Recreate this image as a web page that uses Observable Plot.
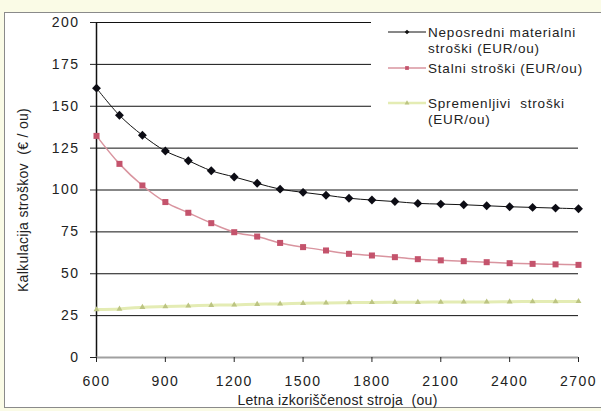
<!DOCTYPE html>
<html>
<head>
<meta charset="utf-8">
<script src="https://cdn.jsdelivr.net/npm/d3@7"></script>
<script src="https://cdn.jsdelivr.net/npm/@observablehq/plot@0.6"></script>
<style>
  body { margin: 0; background: #fafbe6; font-family: "Liberation Sans", Arial, sans-serif; }
  #wrap { position: relative; width: 601px; height: 411px; overflow: hidden; background: #fafbe6; }
  #frame { position: absolute; left: 4px; top: 12px; width: 610px; height: 394px; background: #fff; border: 1px solid #8a8a8a; }
  #chart { position: absolute; left: 0; top: 0; }
  #legend { position: absolute; left: 371px; top: 20px; width: 230px; height: 112px; background: #fff; }
  #legend svg { display: block; }
  #legend text, .axislabel text { white-space: pre; }
  .axislabel text { letter-spacing: 0.3px; }
</style>
</head>
<body>
<div id="wrap">
  <div id="frame"></div>
  <div id="chart"></div>
  <div id="legend"></div>
</div>
<script>
const usage = [600, 700, 800, 900, 1000, 1100, 1200, 1300, 1400, 1500, 1600, 1700, 1800, 1900, 2000, 2100, 2200, 2300, 2400, 2500, 2600, 2700];
const direct = [160.8, 144.6, 132.7, 123.3, 117.5, 111.5, 107.8, 104.0, 100.5, 98.6, 96.9, 95.1, 94.0, 93.1, 92.0, 91.6, 91.2, 90.6, 90.0, 89.6, 89.2, 88.8];
const fixed = [132.3, 115.6, 102.7, 92.8, 86.4, 80.2, 74.8, 72.2, 68.4, 65.9, 63.9, 61.9, 60.9, 59.9, 58.7, 58.0, 57.5, 56.9, 56.3, 55.9, 55.6, 55.3];
const variable = [28.6, 29.0, 30.0, 30.4, 30.8, 31.2, 31.4, 31.8, 32.0, 32.4, 32.6, 32.8, 32.9, 33.0, 33.0, 33.1, 33.2, 33.2, 33.3, 33.4, 33.4, 33.5];
const seriesNames = ["Neposredni materialni stroški (EUR/ou)", "Stalni stroški (EUR/ou)", "Spremenljivi  stroški (EUR/ou)"];
const xTicks = [600, 900, 1200, 1500, 1800, 2100, 2400, 2700];
const yTicks = [0, 25, 50, 75, 100, 125, 150, 175, 200];
const xLabel = "Letna izkoriščenost stroja  (ou)";
const yLabel = "Kalkulacija stroškov  (€ / ou)";

const rows = (vals) => usage.map((u, i) => ({x: u, y: vals[i]}));
const dDirect = rows(direct), dFixed = rows(fixed), dVar = rows(variable);

const chart = Plot.plot({
  width: 601,
  height: 411,
  marginLeft: 96,
  marginRight: 23,
  marginTop: 22,
  marginBottom: 54,
  style: {background: "transparent", fontFamily: "Liberation Sans, Arial, sans-serif", fontSize: "14px", color: "#222", letterSpacing: "1.5px"},
  x: {domain: [600, 2700], label: null},
  y: {domain: [0, 200], label: null},
  marks: [
    Plot.ruleY(yTicks.filter(t => t > 0), {stroke: "#111", strokeWidth: 1}),
    Plot.ruleX([600], {stroke: "#111", strokeWidth: 1.5}),
    Plot.ruleY([0], {stroke: "#a0a0a0", strokeWidth: 2}),
    Plot.line(dVar, {x: "x", y: "y", stroke: "#e4ecb4", strokeWidth: 3, curve: "catmull-rom"}),
    Plot.dot(dVar, {x: "x", y: "y", symbol: "triangle", r: 2.2, fill: "#bcc482", stroke: "none"}),
    Plot.line(dFixed, {x: "x", y: "y", stroke: "#d9949f", strokeWidth: 1.5, curve: "catmull-rom"}),
    Plot.dot(dFixed, {x: "x", y: "y", symbol: "square", r: 3.4, fill: "#c4536c", stroke: "none"}),
    Plot.line(dDirect, {x: "x", y: "y", stroke: "#111", strokeWidth: 1, curve: "catmull-rom"}),
    Plot.dot(dDirect, {x: "x", y: "y", symbol: "diamond2", r: 4, fill: "#0c0c14", stroke: "none"}),
    Plot.axisX({ticks: xTicks, tickFormat: "d", tickSize: 5, tickPadding: 14, label: null, stroke: "#222"}),
    Plot.axisY({ticks: yTicks, tickSize: 6, tickPadding: 11, label: null, stroke: "#222"}),
    Plot.text([xLabel], {frameAnchor: "bottom", dy: 47, fontSize: 14, fill: "#222", className: "axislabel"}),
    Plot.text([yLabel], {frameAnchor: "left", textAnchor: "middle", dx: -73, dy: 10, rotate: -90, fontSize: 14, fill: "#222", className: "axislabel"})
  ]
});
document.getElementById("chart").appendChild(chart);

// legend
const leg = d3.select("#legend").append("svg").attr("width", 230).attr("height", 112)
  .style("font-family", "Liberation Sans, Arial, sans-serif").style("font-size", "13.5px").style("letter-spacing", "0.8px");
const entries = [
  {y: 12, lines: ["Neposredni materialni", "stroški (EUR/ou)"], stroke: "#111", sw: 1, fill: "#111", sym: d3.symbolDiamond2, size: 14},
  {y: 48, lines: ["Stalni stroški (EUR/ou)"], stroke: "#d9949f", sw: 1.5, fill: "#c4536c", sym: d3.symbolSquare, size: 14},
  {y: 83, lines: ["Spremenljivi  stroški", "(EUR/ou)"], stroke: "#e4ecb4", sw: 2.5, fill: "#bcc482", sym: d3.symbolTriangle, size: 10}
];
entries.forEach((e, i) => {
  leg.append("line").attr("x1", 17).attr("x2", 55).attr("y1", e.y).attr("y2", e.y)
    .attr("stroke", e.stroke).attr("stroke-width", e.sw);
  leg.append("path").attr("d", d3.symbol(e.sym, e.size)()).attr("transform", `translate(36,${e.y})`).attr("fill", e.fill);
  e.lines.forEach((t, j) => {
    leg.append("text").attr("x", 57).attr("y", e.y + j * 16).attr("dy", "0.35em").attr("fill", "#222").text(t);
  });
});
</script>
</body>
</html>
